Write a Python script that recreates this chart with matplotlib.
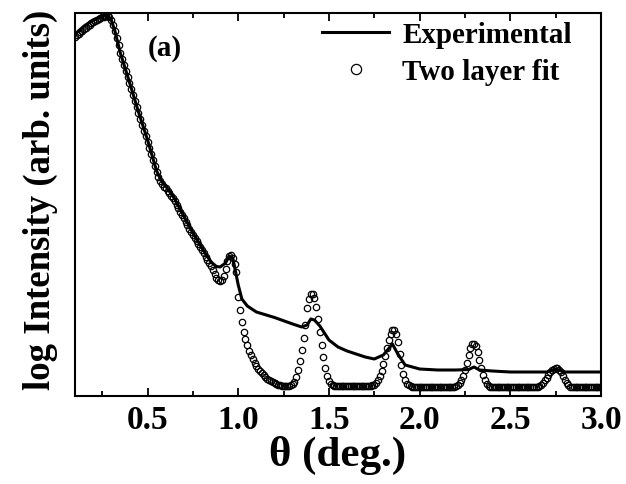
import numpy as np
import matplotlib
matplotlib.use("Agg")
import matplotlib.pyplot as plt
from matplotlib.ticker import MultipleLocator

plt.rcParams['font.family'] = ['Liberation Serif', 'DejaVu Serif']
plt.rcParams['font.weight'] = 'bold'

# experimental reflectivity curve (log intensity, arbitrary units)
exp_theta = [0.10, 0.15, 0.20, 0.25, 0.28, 0.30, 0.32, 0.35, 0.40, 0.45,
             0.50, 0.55, 0.58, 0.60, 0.65, 0.70, 0.75, 0.80, 0.85, 0.88,
             0.90, 0.93, 0.95, 0.97, 1.00, 1.02, 1.05, 1.10, 1.20, 1.30,
             1.35, 1.38, 1.40, 1.42, 1.45, 1.50, 1.55, 1.60, 1.70, 1.75,
             1.80, 1.85, 1.88, 1.92, 2.00, 2.10, 2.20, 2.27, 2.30, 2.33,
             2.40, 2.50, 2.70, 2.75, 2.80, 3.00]
exp_int = [36.2, 37.0, 37.6, 38.0, 38.05, 37.6, 36.5, 34.3, 31.4, 28.4,
           25.6, 22.5, 21.4, 21.0, 19.7, 18.0, 16.3, 14.8, 13.4, 12.95,
           12.9, 13.3, 14.0, 13.8, 11.1, 9.7, 9.0, 8.4, 7.85, 7.2,
           6.9, 7.1, 7.7, 7.6, 7.0, 5.6, 4.9, 4.5, 3.9, 3.7,
           4.1, 5.2, 4.2, 3.1, 2.7, 2.6, 2.6, 2.65, 2.9, 2.6,
           2.5, 2.4, 2.4, 2.7, 2.4, 2.4]

# two layer fit, sampled every 0.01 deg from 0.10 to 3.00
fit_start, fit_step = 0.10, 0.01
fit_int = [
    35.9, 36.1, 36.25, 36.4, 36.55, 36.7, 36.85, 37.0, 37.15, 37.3,    # 0.10
    37.4, 37.5, 37.6, 37.7, 37.8, 37.9, 37.95, 38.0, 38.0, 37.9,       # 0.20
    37.6, 37.1, 36.5, 35.8, 35.1, 34.3, 33.7, 33.1, 32.5, 31.9,        # 0.30
    31.3, 30.7, 30.1, 29.5, 28.9, 28.3, 27.7, 27.1, 26.5, 26.0,        # 0.40
    25.4, 24.8, 24.2, 23.6, 23.0, 22.4, 21.9, 21.5, 21.2, 20.9,        # 0.50
    20.8, 20.55, 20.3, 20.05, 19.8, 19.5, 19.15, 18.8, 18.45, 18.1,    # 0.60
    17.8, 17.45, 17.1, 16.75, 16.4, 16.1, 15.8, 15.5, 15.2, 14.9,      # 0.70
    14.6, 14.3, 13.95, 13.6, 13.3, 13.0, 12.6, 12.2, 11.85, 11.6,      # 0.80
    11.5, 11.6, 12.0, 12.7, 13.5, 14.05, 14.1, 13.8, 13.2, 12.4,       # 0.90
    9.9, 8.6, 7.4, 6.4, 5.7, 5.1, 4.5, 4.1, 3.7, 3.3,                  # 1.00
    3.0, 2.7, 2.5, 2.3, 2.1, 1.9, 1.75, 1.6, 1.5, 1.4,                 # 1.10
    1.3, 1.2, 1.15, 1.1, 1.05, 1.0, 1.0, 1.0, 1.05, 1.1,               # 1.20
    1.2, 1.4, 1.9, 2.6, 3.5, 4.6, 5.8, 7.1, 8.8, 9.7,                  # 1.30
    10.2, 10.2, 9.8, 8.9, 7.7, 6.4, 5.1, 3.9, 2.8, 2.0,                # 1.40
    1.5, 1.25, 1.1, 1.0, 1.0, 1.0, 1.0, 1.0, 1.0, 1.0,                 # 1.50
    1.0, 1.0, 1.0, 1.0, 1.0, 1.0, 1.0, 1.0, 1.0, 1.0,                  # 1.60
    1.0, 1.0, 1.0, 1.05, 1.1, 1.1, 1.3, 1.6, 2.0, 2.5,                 # 1.70
    3.2, 4.0, 4.8, 5.6, 6.2, 6.6, 6.6, 6.2, 5.4, 4.2,                  # 1.80
    3.1, 2.2, 1.6, 1.25, 1.1, 1.0, 0.95, 0.9, 0.9, 0.9,                # 1.90
    0.9, 0.9, 0.9, 0.9, 0.9, 0.9, 0.9, 0.9, 0.9, 0.9,                  # 2.00
    0.9, 0.9, 0.9, 0.9, 0.9, 0.9, 0.9, 0.9, 0.9, 0.9,                  # 2.10
    1.0, 1.1, 1.3, 1.6, 2.0, 2.6, 3.3, 4.1, 4.8, 5.2,                  # 2.20
    5.25, 5.0, 4.4, 3.6, 2.8, 2.1, 1.6, 1.25, 1.05, 0.95,              # 2.30
    0.9, 0.9, 0.9, 0.9, 0.9, 0.9, 0.9, 0.9, 0.9, 0.9,                  # 2.40
    0.9, 0.9, 0.9, 0.9, 0.9, 0.9, 0.9, 0.9, 0.9, 0.9,                  # 2.50
    0.9, 0.9, 0.9, 0.9, 0.9, 0.9, 1.0, 1.1, 1.3, 1.6,                  # 2.60
    1.8, 2.1, 2.4, 2.6, 2.75, 2.8, 2.8, 2.65, 2.4, 2.05,               # 2.70
    1.6, 1.3, 1.1, 0.95, 0.9, 0.9, 0.9, 0.9, 0.9, 0.9,                 # 2.80
    0.9, 0.9, 0.9, 0.9, 0.9, 0.9, 0.9, 0.9, 0.9, 0.9,                  # 2.90
    0.9,                                                               # 3.00
]
fit_theta = fit_start + fit_step * np.arange(len(fit_int))

fig = plt.figure(figsize=(6.26, 4.85), dpi=100)
ax = fig.add_axes([75 / 626, 88 / 485, 526 / 626, 383 / 485])

ax.plot(fit_theta, fit_int, 'o', ms=4.6, mfc='none', mec='black', mew=0.9,
        label='Two layer fit')
ax.plot(exp_theta, exp_int, '-', color='black', lw=2.2, label='Experimental')

ax.set_xlim(0.1, 3.0)
ax.set_ylim(0, 38.3)
ax.set_yticks([])
ax.xaxis.set_major_locator(MultipleLocator(0.5))
ax.xaxis.set_minor_locator(MultipleLocator(0.25))
ax.tick_params(axis='x', which='both', direction='in', top=True, labelsize=24, width=1.3, pad=6)
ax.tick_params(axis='x', which='major', length=6)
ax.tick_params(axis='x', which='minor', length=3.5)
for s in ax.spines.values():
    s.set_linewidth(1.5)

ax.set_xlabel('θ (deg.)', fontsize=31, fontweight='bold', labelpad=0)
ax.set_ylabel('log Intensity (arb. units)', fontsize=26.5, fontweight='bold')
ax.yaxis.set_label_coords(-0.032, 0.515)

ax.text(0.139, 0.89, '(a)', transform=ax.transAxes, fontsize=21, fontweight='bold')

handles, labels = ax.get_legend_handles_labels()
leg = ax.legend(handles[::-1], labels[::-1], loc='upper right', frameon=False,
                fontsize=21, handlelength=2.3, handletextpad=0.45, labelspacing=0.35,
                markerscale=1.6, borderaxespad=0, borderpad=0,
                bbox_to_anchor=(572 / 626, 1 - 22 / 485), bbox_transform=fig.transFigure)

fig.savefig('out.png', dpi=100)
